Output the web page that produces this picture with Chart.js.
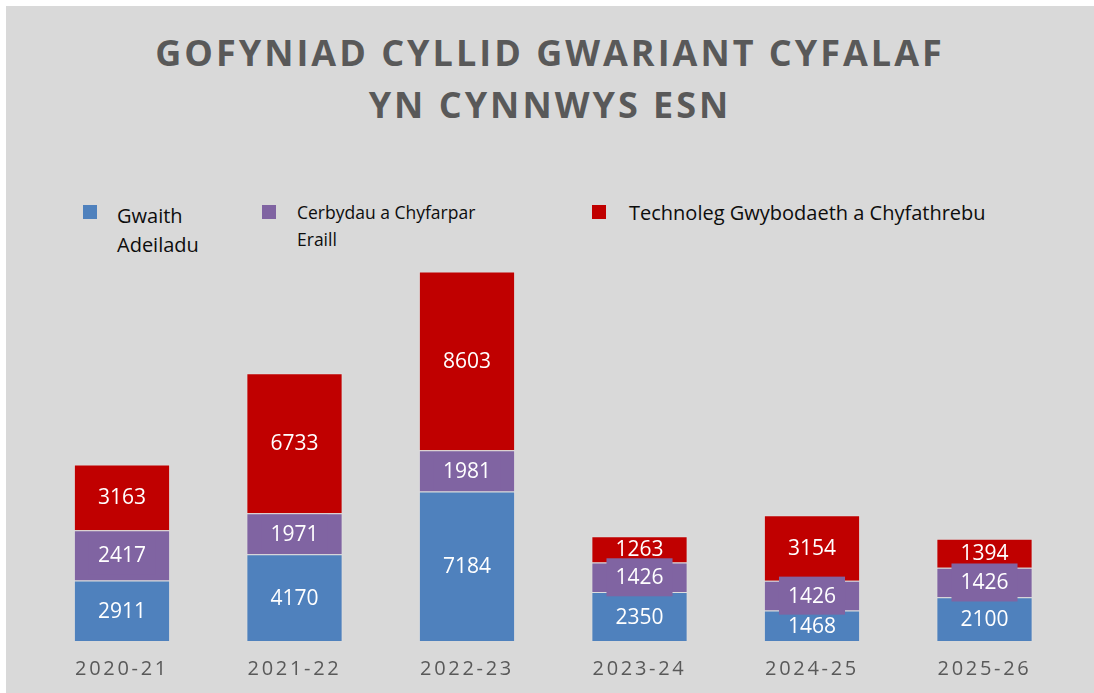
<!DOCTYPE html>
<html>
<head>
<meta charset="utf-8">
<script src="https://cdn.jsdelivr.net/npm/chart.js@4"></script>
<style>
  body { margin: 0; background: #fff; overflow: hidden; font-family: "Open Sans", sans-serif; }
  #wrap { position: relative; width: 1094px; height: 693px; }
  #panel { position: absolute; left: 6px; top: 6px; right: 0; bottom: 0; background: #d9d9d9; }
  #title { position: absolute; left: 6px; width: 1088px; top: 27px; text-align: center;
           font-weight: 700; font-size: 36px; line-height: 52px; letter-spacing: 3px; color: #595959; }
  .sw { position: absolute; width: 14px; height: 14px; top: 205px; }
  .lt { position: absolute; color: #0d0d0d; }
  #myChart { position: absolute; left: 0; top: 0; }
</style>
</head>
<body>
<div id="wrap">
  <div id="panel"></div>
  <div id="title">GOFYNIAD CYLLID GWARIANT CYFALAF<br>YN CYNNWYS ESN</div>

  <div class="sw" style="left:83px; background:#4f81bd"></div>
  <div class="lt" style="left:117px; top:201px; font-size:20px; line-height:29px">Gwaith<br>Adeiladu</div>
  <div class="sw" style="left:262px; background:#8064a2"></div>
  <div class="lt" style="left:297px; top:199px; font-size:17.5px; line-height:27px">Cerbydau a Chyfarpar<br>Eraill</div>
  <div class="sw" style="left:592px; background:#c00000"></div>
  <div class="lt" style="left:629px; top:199px; font-size:20px; line-height:28px">Technoleg Gwybodaeth a Chyfathrebu</div>

  <canvas id="myChart" width="1094" height="710"></canvas>
</div>

<script>
'use strict';

// 데이터
const years = ['2020-21', '2021-22', '2022-23', '2023-24', '2024-25', '2025-26'];
const gwaith = [2911, 4170, 7184, 2350, 1468, 2100];
const cerbydau = [2417, 1971, 1981, 1426, 1426, 1426];
const technoleg = [3163, 6733, 8603, 1263, 3154, 1394];

// x축 라벨 자간
const spacing = {
    id: 'spacing',
    beforeDraw(chart) { chart.ctx.letterSpacing = '2.7px'; },
    beforeDatasetsDraw(chart) { chart.ctx.letterSpacing = '0px'; }
};

// 막대 안 숫자
const labels = {
    id: 'labels',
    afterDatasetsDraw(chart) {
        const ctx = chart.ctx;
        ctx.save();
        ctx.font = '21px "Open Sans"';
        ctx.textAlign = 'center';
        ctx.textBaseline = 'middle';
        chart.data.datasets.forEach(function (ds, i) {
            chart.getDatasetMeta(i).data.forEach(function (bar, j) {
                const p = bar.getProps(['x', 'y', 'base'], true);
                const cy = (p.y + p.base) / 2;
                const txt = String(ds.data[j]);
                if (ds.labelBox) {
                    const w = ctx.measureText(txt).width + 18;
                    ctx.fillStyle = ds.backgroundColor;
                    ctx.fillRect(p.x - w / 2, cy - 19, w, 38);
                }
                ctx.fillStyle = '#ffffff';
                ctx.fillText(txt, p.x, cy + 1);
            });
        });
        ctx.restore();
    }
};

const data = {
    labels: years,
    datasets: [
        { label: 'Gwaith Adeiladu', data: gwaith, backgroundColor: '#4f81bd' },
        { label: 'Cerbydau a Chyfarpar Eraill', data: cerbydau, backgroundColor: '#8064a2', labelBox: true },
        { label: 'Technoleg Gwybodaeth a Chyfathrebu', data: technoleg, backgroundColor: '#c00000' }
    ]
};

const config = {
    type: 'bar',
    data,
    options: {
        responsive: false,
        animation: false,
        categoryPercentage: 1,
        barPercentage: 0.558,
        borderColor: 'rgba(255,255,255,0.15)',
        borderWidth: 1,
        layout: { padding: { left: 35.75, right: 23.25, top: 225, bottom: 13 } },
        plugins: { legend: { display: false }, title: { display: false }, tooltip: { enabled: false } },
        scales: {
            x: {
                stacked: true,
                grid: { display: false, drawTicks: false },
                border: { display: false },
                ticks: { padding: 16, color: '#595959', font: { family: 'Open Sans', size: 20 } }
            },
            y: { stacked: true, display: false, min: 0, max: 20000 }
        }
    },
    plugins: [spacing, labels]
};

const myChart = new Chart(document.getElementById('myChart'), config);
</script>
</body>
</html>
